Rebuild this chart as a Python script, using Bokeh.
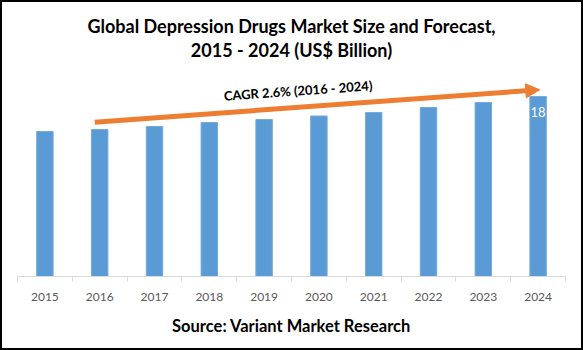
from bokeh.plotting import figure
from bokeh.models import (ColumnDataSource, Range1d, FixedTicker, Title, Arrow,
                          NormalHead, Label)
from bokeh.core.properties import value
from bokeh.embed import file_html
from bokeh.resources import INLINE

years = ["2015", "2016", "2017", "2018", "2019", "2020", "2021", "2022", "2023", "2024"]
market = [14.5, 14.7, 15.0, 15.4, 15.7, 16.05, 16.4, 16.9, 17.4, 18.0]
cagr_text = "CAGR 2.6% (2016 - 2024)"
title_line1 = "Global Depression Drugs Market Size and Forecast,"
title_line2 = "2015 - 2024 (US$ Billion)"
source_text = "Source: Variant Market Research"

FONT = "Lato"
idx = list(range(len(years)))

src = ColumnDataSource(dict(x=idx, y=market))
lab = ColumnDataSource(dict(x=[idx[-1]], y=[market[-1]], t=[f"{market[-1]:.0f}"]))

p = figure(width=583, height=350, output_backend="svg", toolbar_location=None,
           x_range=Range1d(-0.5, len(years) - 0.5), y_range=Range1d(0, 21.6),
           min_border_left=17, min_border_right=18, min_border_top=60,
           min_border_bottom=74)
p.outline_line_color = None
p.xgrid.visible = False
p.ygrid.visible = False
p.yaxis.visible = False

p.title.text = title_line1
p.title.align = "center"
p.title.text_font = FONT
p.title.text_font_size = "18px"
p.title.text_font_style = "bold"
p.title.text_color = "#000000"
p.title.standoff = 0
p.add_layout(Title(text=title_line2, align="center", text_font=FONT,
                   text_font_size="18px", text_font_style="bold",
                   text_color="#000000", standoff=0), "above")

p.vbar(x="x", top="y", width=0.3, source=src, fill_color="#5B9BD5",
       line_color="#74A9DC", line_width=1)

p.text(x="x", y="y", text="t", source=lab, text_color="white",
       text_font=value(FONT), text_font_size="13px", text_align="center",
       text_baseline="top", y_offset=10)

ax = p.xaxis[0]
ax.ticker = FixedTicker(ticks=idx, minor_ticks=[i - 0.5 for i in range(len(years) + 1)])
ax.major_label_overrides = {i: y for i, y in enumerate(years)}
ax.major_tick_line_color = None
ax.major_tick_out = 0
ax.major_tick_in = 0
ax.minor_tick_line_color = "#D9D9D9"
ax.minor_tick_out = 5
ax.minor_tick_in = 0
ax.axis_line_color = "#D9D9D9"
ax.major_label_text_font = FONT
ax.major_label_text_font_size = "12px"
ax.major_label_text_color = "#595959"
ax.major_label_standoff = 11

p.add_layout(Title(text=source_text, align="center", text_font=FONT,
                   text_font_size="16.5px", text_font_style="bold",
                   text_color="#000000", standoff=21), "below")

p.add_layout(Arrow(end=NormalHead(size=14, fill_color="#ED7D31", line_color="#ED7D31"),
                   x_start=0.91, y_start=15.43, x_end=9.03, y_end=18.67,
                   line_color="#ED7D31", line_width=5))

p.add_layout(Label(x=4.62, y=18.6, text=cagr_text, angle=0.07,
                   text_align="center", text_baseline="middle",
                   text_font=FONT, text_font_size="13px", text_font_style="bold",
                   text_color="#000000"))

html = file_html(p, INLINE)
frame_css = ("<style>body::after{content:'';position:fixed;left:0;top:0;"
             "width:583px;height:350px;box-sizing:border-box;"
             "border:2px solid #000;pointer-events:none;z-index:10;}</style>")
html = html.replace("</head>", frame_css + "</head>", 1)
open("out.html", "w").write(html)
